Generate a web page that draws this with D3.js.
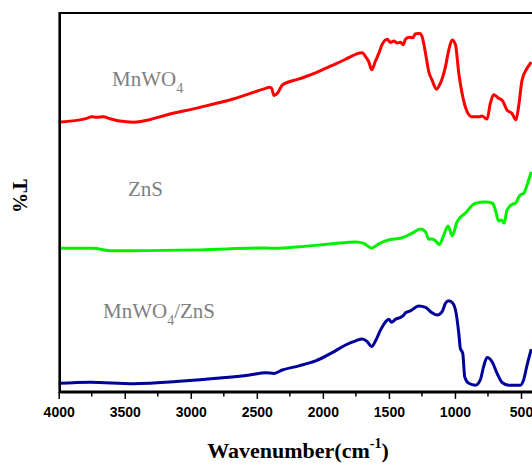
<!DOCTYPE html>
<html>
<head>
<meta charset="utf-8">
<script src="https://cdn.jsdelivr.net/npm/d3@7"></script>
<style>
  html, body { margin: 0; padding: 0; background: #fff; }
  svg { display: block; }
</style>
</head>
<body>
<svg id="chart" width="532" height="465"></svg>
<script>
// FTIR transmittance spectra (arbitrary T% units, offset for clarity)
const tickLabels = [4000, 3500, 3000, 2500, 2000, 1500, 1000, 500];
const minorTicks = [3750, 3250, 2750, 2250, 1750, 1250, 750];

const mnwo4Wave = [4000, 3788, 3750, 3713, 3663, 3612, 3537, 3436, 3360, 3184, 2932, 2680, 2433, 2403, 2387, 2370, 2344, 2307, 2181, 2055, 1929, 1828, 1752, 1702, 1677, 1652, 1631, 1601, 1576, 1551, 1513, 1488, 1463, 1437, 1412, 1392, 1374, 1344, 1319, 1299, 1266, 1248, 1223, 1198, 1173, 1140, 1110, 1072, 1047, 1021, 996, 971, 946, 908, 870, 820, 795, 757, 732, 707, 669, 639, 606, 568, 538, 518, 492, 454, 422];
const mnwo4T = [71.2, 72.2, 72.6, 72.5, 72.6, 72.1, 71.5, 71.2, 71.5, 73.1, 75.1, 77.3, 80.1, 80.4, 80.1, 78.2, 78.8, 81.0, 82.6, 84.2, 86.2, 87.8, 89.1, 89.5, 88.5, 87.1, 85.0, 87.4, 89.4, 91.7, 93.1, 92.2, 92.6, 92.1, 92.3, 91.6, 93.1, 93.6, 93.5, 94.5, 94.6, 93.7, 89.4, 84.5, 82.3, 79.9, 81.5, 85.8, 90.2, 92.9, 91.6, 84.1, 78.8, 74.0, 72.6, 72.6, 72.8, 72.0, 76.2, 78.4, 77.5, 76.8, 74.4, 73.5, 71.8, 75.3, 82.3, 85.4, 87.0];

const znsWave = [4000, 3738, 3612, 3436, 2932, 2433, 2357, 2181, 1929, 1752, 1690, 1631, 1576, 1513, 1400, 1324, 1261, 1223, 1198, 1173, 1148, 1118, 1085, 1052, 1021, 984, 921, 845, 770, 715, 694, 669, 649, 628, 606, 568, 543, 505, 480, 454, 422];
const znsT = [37.9, 37.9, 37.3, 37.3, 37.5, 38.0, 37.9, 38.3, 39.1, 39.6, 39.2, 38.0, 39.1, 40.0, 40.7, 41.9, 43.0, 42.3, 40.3, 40.4, 39.9, 38.9, 41.4, 43.8, 41.2, 44.9, 47.2, 49.8, 50.1, 49.8, 48.0, 45.1, 45.4, 44.5, 48.0, 49.5, 49.8, 52.0, 52.4, 54.6, 58.1];

const compWave = [4000, 3763, 3436, 3058, 2806, 2554, 2433, 2370, 2307, 2181, 2055, 1929, 1828, 1752, 1702, 1664, 1631, 1601, 1563, 1526, 1501, 1480, 1450, 1412, 1387, 1374, 1337, 1274, 1223, 1173, 1135, 1097, 1072, 1047, 1017, 991, 971, 959, 941, 926, 896, 845, 808, 783, 757, 719, 681, 643, 593, 505, 480, 454, 422];
const compT = [2.3, 2.6, 2.2, 2.9, 3.6, 4.5, 5.1, 4.9, 5.8, 6.9, 8.2, 10.4, 12.4, 13.5, 14.0, 13.3, 12.0, 13.5, 16.4, 18.5, 19.2, 18.4, 19.2, 19.7, 20.3, 20.9, 21.4, 22.7, 22.3, 20.9, 20.3, 21.2, 23.4, 24.1, 23.5, 20.8, 15.5, 11.5, 10.2, 4.0, 2.3, 1.8, 3.2, 6.7, 9.1, 8.0, 4.9, 2.5, 1.8, 1.8, 3.2, 7.1, 11.3];

const seriesColors = ["#ff0000", "#00f000", "#00009b"];

const svg = d3.select("#chart");
const plotLeft = 59, plotRight = 534.2, plotTop = 13, plotBottom = 392;

const x = d3.scaleLinear().domain([4000, 400]).range([58.7, plotRight]);
const y = d3.scaleLinear().domain([0, 100]).range([plotBottom, plotTop]);

const series = [
  { wave: mnwo4Wave, t: mnwo4T, color: seriesColors[0] },
  { wave: znsWave, t: znsT, color: seriesColors[1] },
  { wave: compWave, t: compT, color: seriesColors[2] }
];

const line = d3.line()
  .x(d => x(d[0]))
  .y(d => y(d[1]))
  .curve(d3.curveMonotoneX);

series.forEach(s => {
  svg.append("path")
    .datum(s.wave.map((w, i) => [w, s.t[i]]))
    .attr("fill", "none")
    .attr("stroke", s.color)
    .attr("stroke-width", 3)
    .attr("stroke-linejoin", "round")
    .attr("d", line);
});

// frame: top border and left axis line
svg.append("line")
  .attr("x1", plotLeft).attr("x2", 540).attr("y1", plotTop).attr("y2", plotTop)
  .attr("stroke", "#000").attr("stroke-width", 2);
svg.append("line")
  .attr("x1", 59.7).attr("x2", 59.7).attr("y1", plotTop - 1).attr("y2", plotBottom + 1)
  .attr("stroke", "#000").attr("stroke-width", 2.6);

// bottom axis with major and minor ticks
const xAxis = d3.axisBottom(x)
  .tickValues(tickLabels)
  .tickSize(7)
  .tickSizeOuter(0)
  .tickPadding(8)
  .tickFormat(d3.format("d"));

const gx = svg.append("g")
  .attr("transform", `translate(0,${plotBottom})`)
  .call(xAxis);
gx.select(".domain").attr("stroke-width", 3).attr("d", `M${plotLeft},0H540`);
gx.selectAll(".tick line").attr("stroke-width", 1.5);
gx.selectAll(".tick text")
  .attr("font-family", "Liberation Sans, Arial, sans-serif")
  .attr("font-weight", "bold")
  .attr("font-size", 14)
  .attr("fill", "#000");

gx.selectAll(".minor")
  .data(minorTicks)
  .enter().append("line")
  .attr("class", "minor")
  .attr("x1", d => x(d)).attr("x2", d => x(d))
  .attr("y1", 0).attr("y2", 4.5)
  .attr("stroke", "#000").attr("stroke-width", 1.5);

// axis titles
const xTitle = svg.append("text")
  .attr("x", 298).attr("y", 458)
  .attr("text-anchor", "middle")
  .attr("font-family", "Liberation Serif, Times New Roman, serif")
  .attr("font-weight", "bold")
  .attr("font-size", 22)
  .attr("fill", "#000");
xTitle.append("tspan").text("Wavenumber(cm");
xTitle.append("tspan").attr("font-size", 14).attr("dy", -10).text("-1");
xTitle.append("tspan").attr("dy", 10).text(")");

svg.append("text")
  .attr("transform", "translate(13,196) rotate(90)")
  .attr("text-anchor", "middle")
  .attr("font-family", "Liberation Serif, Times New Roman, serif")
  .attr("font-weight", "bold")
  .attr("font-size", 20)
  .attr("fill", "#000")
  .text("T%");

// series labels with subscript digits
function seriesLabel(px, py, parts) {
  const t = svg.append("text")
    .attr("x", px).attr("y", py)
    .attr("font-family", "Liberation Serif, Times New Roman, serif")
    .attr("font-size", 21)
    .attr("fill", "#7f7f7f");
  let shift = 0;
  parts.forEach(p => {
    const dy = p.sub ? 7 - shift : -shift;
    shift = p.sub ? 7 : 0;
    t.append("tspan")
      .attr("dy", dy)
      .attr("font-size", p.sub ? 14 : 21)
      .text(p.text);
  });
}
seriesLabel(112, 86, [{ text: "MnWO" }, { text: "4", sub: true }]);
seriesLabel(128, 196, [{ text: "ZnS" }]);
seriesLabel(103, 318, [{ text: "MnWO" }, { text: "4", sub: true }, { text: "/ZnS" }]);
</script>
</body>
</html>
